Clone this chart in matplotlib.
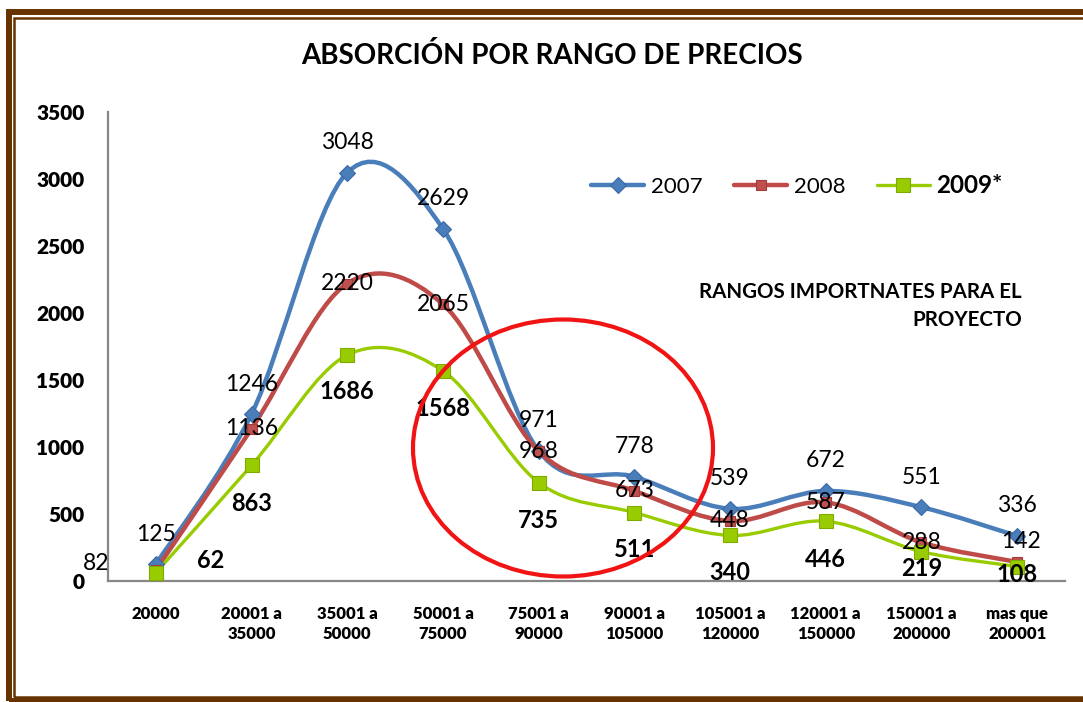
import matplotlib
matplotlib.use("Agg")
import matplotlib.pyplot as plt
from matplotlib.path import Path
from matplotlib.patches import PathPatch, Ellipse, Rectangle
from matplotlib.lines import Line2D
import numpy as np

plt.rcParams['font.family'] = ['Lato', 'DejaVu Sans']

# ---- data ----
categories = ['20000', '20001 a\n35000', '35001 a\n50000', '50001 a\n75000',
              '75001 a\n90000', '90001 a\n105000', '105001 a\n120000',
              '120001 a\n150000', '150001 a\n200000', 'mas que\n200001']
y2007 = [125, 1246, 3048, 2629, 971, 778, 539, 672, 551, 336]
y2008 = [82, 1136, 2220, 2065, 968, 673, 448, 587, 288, 142]
y2009 = [62, 863, 1686, 1568, 735, 511, 340, 446, 219, 108]
series_names = ['2007', '2008', '2009*']
yticks = [0, 500, 1000, 1500, 2000, 2500, 3000, 3500]
title = 'ABSORCIÓN POR RANGO DE PRECIOS'
note = 'RANGOS IMPORTNATES PARA EL\nPROYECTO'

W, H = 1083, 702
PX = 0.72  # points per pixel at dpi 100

# label offsets in pixels (dx, dy up)
off2007 = [(0, 30)] * 10
off2008 = [(-60, 7), (0, 0), (0, 0), (0, 0), (0, 0), (0, 0), (0, 0), (0, 0), (0, 0), (4, 20)]
off2009 = [(55, 12), (0, -38), (0, -36), (0, -38), (0, -38), (0, -37), (0, -37),
           (0, -38), (0, -17), (0, -8)]


def smooth_path(xs, ys):
    # excel-like smoothed line: catmull-rom as cubic bezier
    pts = [np.array([x, y], dtype=float) for x, y in zip(xs, ys)]
    ext = [pts[0]] + pts + [pts[-1]]
    verts = [pts[0]]
    codes = [Path.MOVETO]
    for i in range(1, len(ext) - 2):
        p0, p1, p2, p3 = ext[i - 1], ext[i], ext[i + 1], ext[i + 2]
        verts += [p1 + (p2 - p0) / 6, p2 - (p3 - p1) / 6, p2]
        codes += [Path.CURVE4] * 3
    return Path(verts, codes)


fig = plt.figure(figsize=(W / 100, H / 100), dpi=100)
fig.patch.set_facecolor('white')

ax = fig.add_axes([108 / W, 1 - 581 / H, 957 / W, 469 / H])
x = np.arange(len(categories))

styles = [
    dict(color='#4A7EBB', lw=3.2, marker='D', ms=8, mfc='#4A7EBB', mec='#3A6AA5'),
    dict(color='#BE4B48', lw=3.2, marker='s', ms=7.5, mfc='#C0504D', mec='#A03C3A'),
    dict(color='#99CC00', lw=2.4, marker='s', ms=9.5, mfc='#99CC00', mec='#80AA00'),
]
handles = []
for i, (ys, st) in enumerate(zip([y2007, y2008, y2009], styles)):
    ax.add_patch(PathPatch(smooth_path(x, ys), fill=False, ec=st['color'],
                           lw=st['lw'], zorder=2 + i, capstyle='round'))
    ax.plot(x, ys, ls='none', marker=st['marker'], ms=st['ms'], mfc=st['mfc'],
            mec=st['mec'], mew=0.8, zorder=5 + i)
    handles.append(Line2D([], [], color=st['color'], lw=st['lw'], marker=st['marker'],
                          ms=st['ms'], mfc=st['mfc'], mec=st['mec'], mew=0.8,
                          solid_capstyle='round'))

for ys, offs, bold in [(y2007, off2007, False), (y2008, off2008, False), (y2009, off2009, True)]:
    for xi, yi, (dx, dy) in zip(x, ys, offs):
        ax.annotate(str(yi), (xi, yi), xytext=(dx * PX, dy * PX), textcoords='offset points',
                    ha='center', va='center', fontsize=17 if bold else 16.5,
                    fontweight='bold' if bold else 'normal', color='black', zorder=10)

ax.set_xlim(-0.5, len(categories) - 0.5)
ax.set_ylim(0, 3500)
ax.set_yticks(yticks)
ax.set_yticklabels([str(t) for t in yticks], fontsize=15, fontweight='heavy')
ax.set_xticks(x)
ax.set_xticklabels(categories, fontsize=12, fontweight='heavy', linespacing=1.3)
ax.tick_params(axis='x', length=0, pad=18)
ax.tick_params(axis='y', length=0, pad=17)
for s in ['top', 'right']:
    ax.spines[s].set_visible(False)
for s in ['left', 'bottom']:
    ax.spines[s].set_color('#878787')
    ax.spines[s].set_linewidth(1.6)

leg = ax.legend(handles, series_names, loc='center', bbox_to_anchor=(0.72, 0.844),
                ncol=3, frameon=False, fontsize=16, handlelength=2.4,
                handletextpad=0.3, columnspacing=1.4)
leg.get_texts()[2].set_fontweight('bold')
leg.get_texts()[2].set_fontsize(17.5)

fig.text(552 / W, 1 - 55 / H, title, ha='center', va='center', fontsize=20,
         fontweight='bold')
fig.text(1022 / W, 1 - 306 / H, note, ha='right', va='center', fontsize=14.8,
         fontweight='bold', linespacing=1.45, multialignment='right')

# red circle
fig.patches.append(Ellipse((563 / W, 1 - 448 / H), 300 / W, 257 / H, fill=False,
                           ec='#F01414', lw=3.0, transform=fig.transFigure, zorder=20))

# brown frame
fig.patches.append(Rectangle((8.5 / W, 1 - 701 / H), 1.2, (701 - 12) / H, fill=False,
                             ec='#663300', lw=4.3, transform=fig.transFigure))
fig.patches.append(Rectangle((13.5 / W, 1 - 697 / H), 1.2, (697 - 18) / H, fill=False,
                             ec='#663300', lw=1.8, transform=fig.transFigure))

fig.savefig('out.png', dpi=100)
